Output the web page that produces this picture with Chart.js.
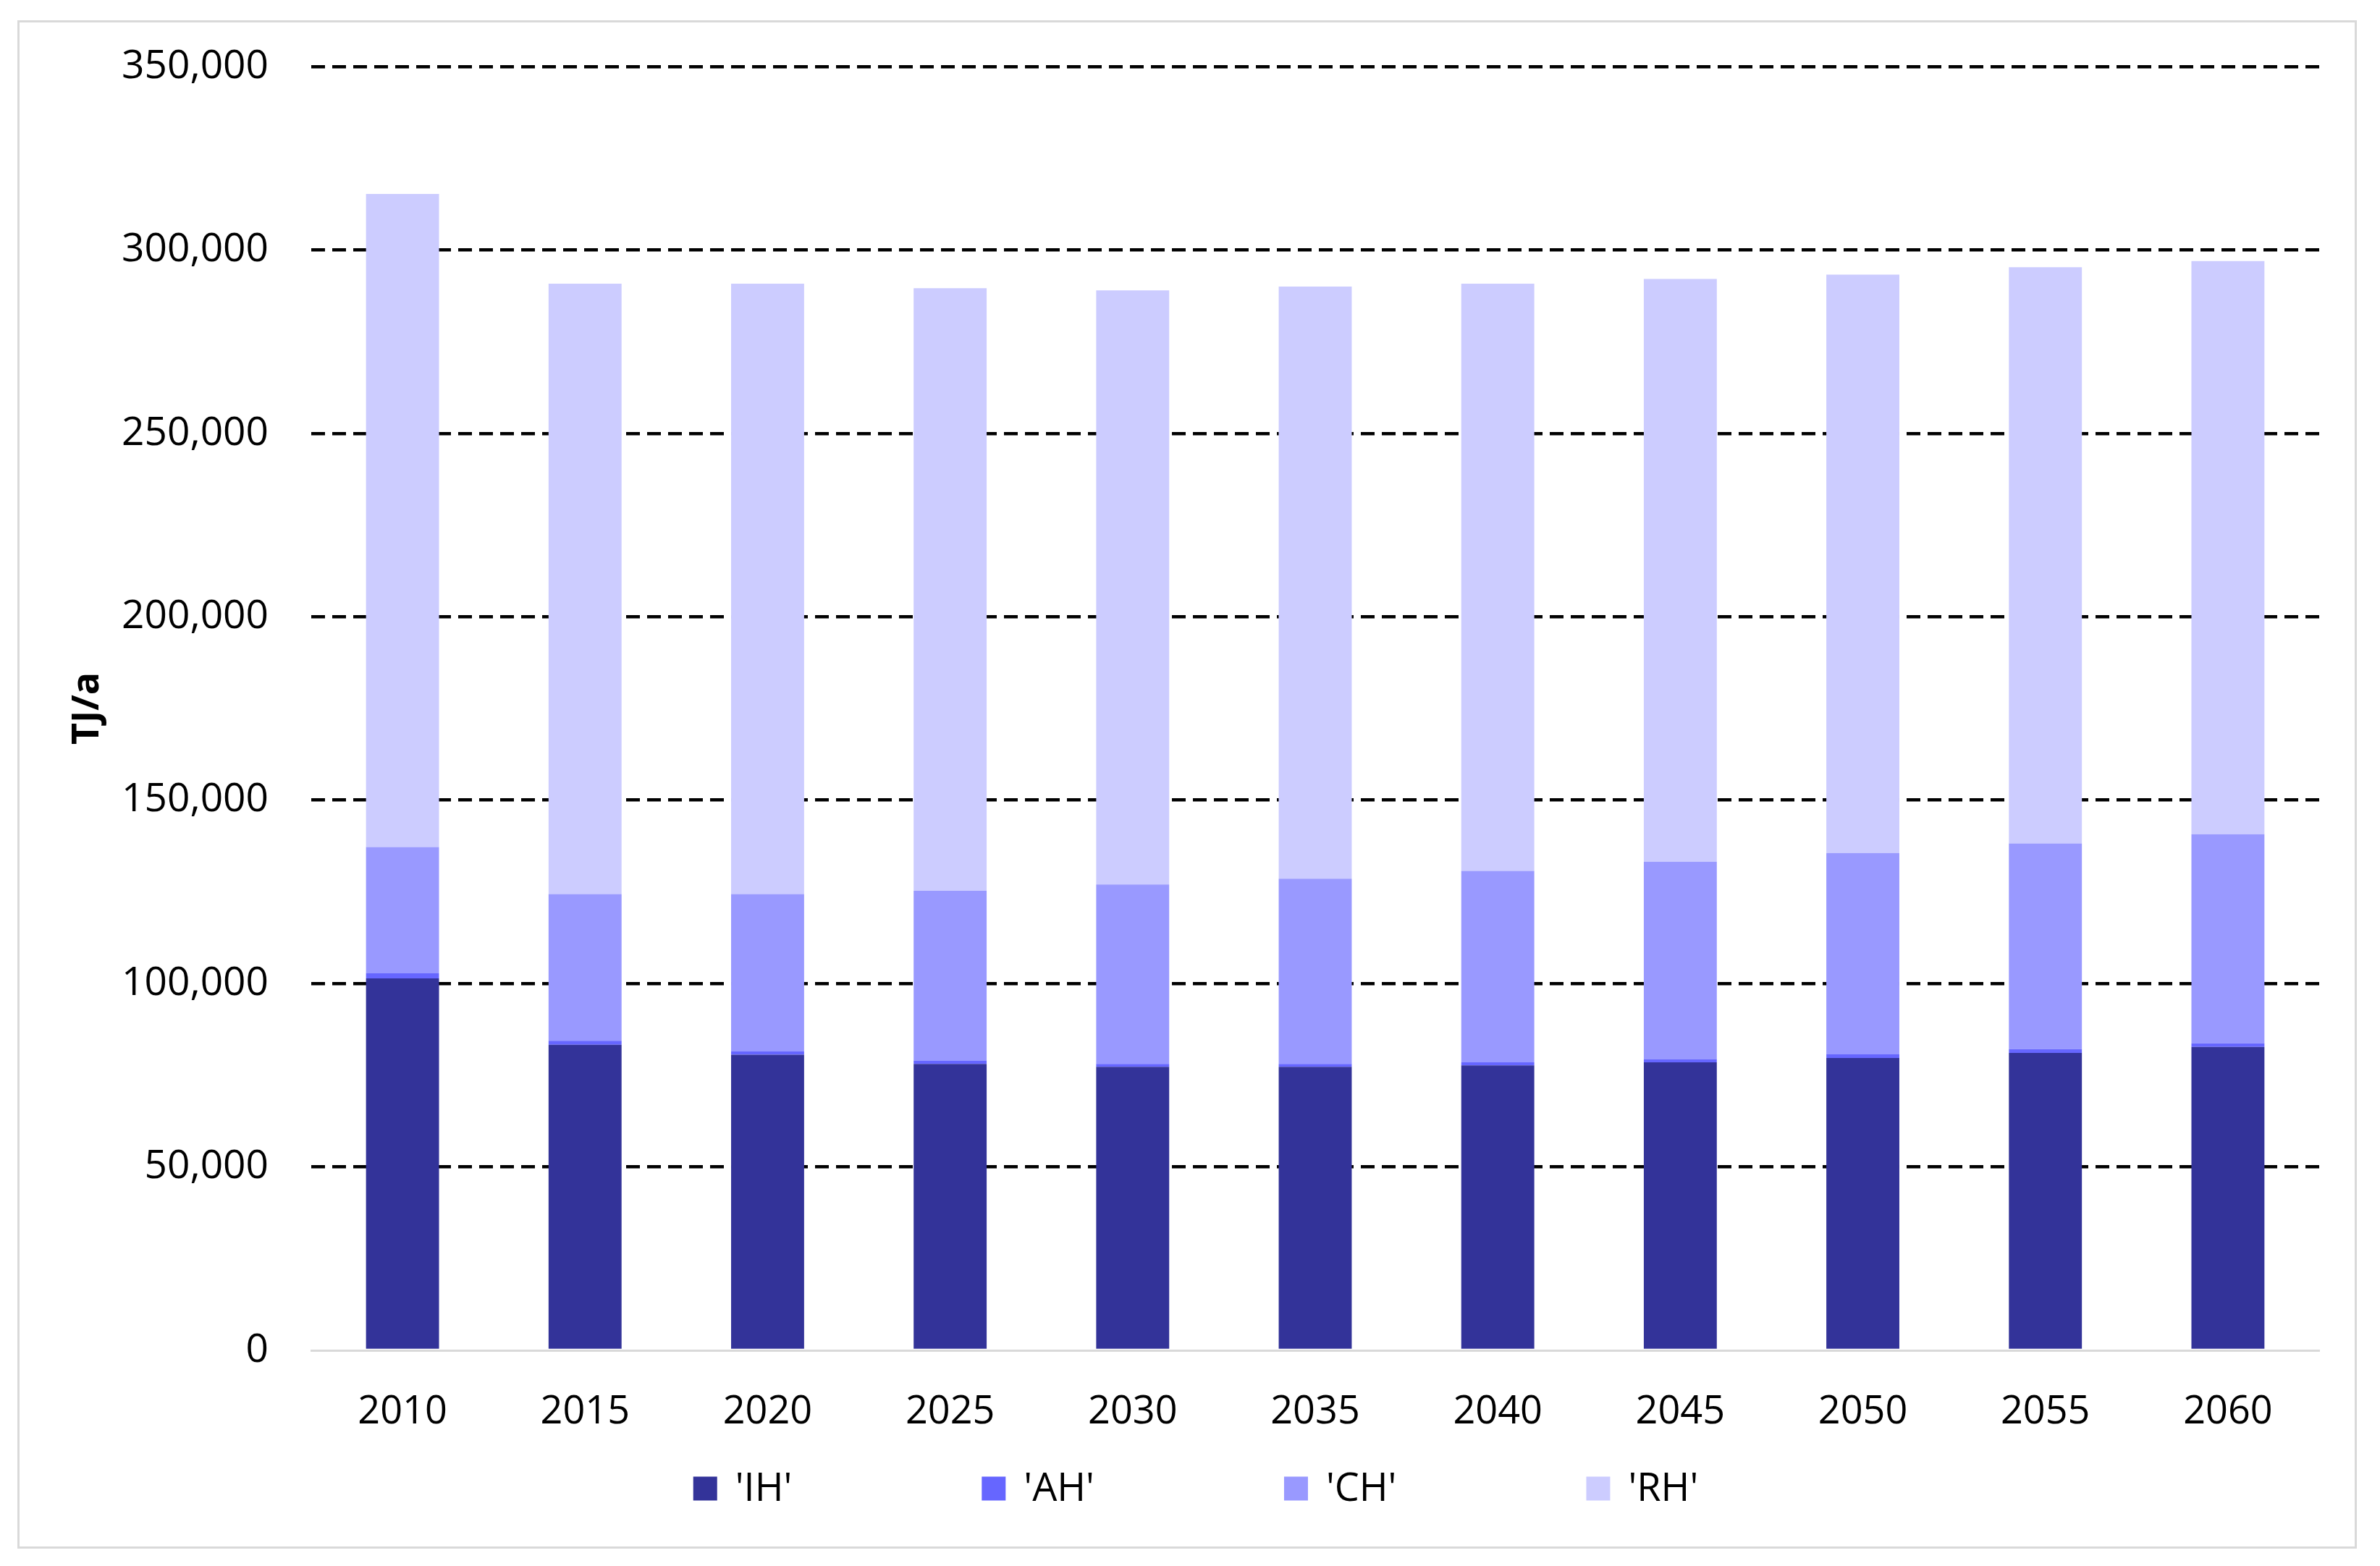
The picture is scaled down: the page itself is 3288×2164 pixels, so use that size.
<!DOCTYPE html>
<html lang="en">
<head>
<meta charset="UTF-8">
<title>TJ/a</title>
<script src="https://cdn.jsdelivr.net/npm/chart.js@4.4.0/dist/chart.umd.min.js"></script>
<style>
  html, body { margin: 0; padding: 0; background: #fff; }
  #wrap { position: relative; width: 3288px; height: 2164px; }
  #frame { position: absolute; left: 24px; top: 28px; width: 3226px; height: 2106px; border: 3px solid #d9d9d9; }
  #chart { position: absolute; left: 0; top: 0; }
</style>
</head>
<body>
<div id="wrap">
  <div id="frame"></div>
  <canvas id="chart" width="3288" height="2164"></canvas>
</div>
<script>
// data (TJ/a)
const years = ['2010', '2015', '2020', '2025', '2030', '2035', '2040', '2045', '2050', '2055', '2060'];
const ihValues = [101400, 83300, 80600, 78100, 77300, 77300, 77700, 78500, 79700, 81100, 82700];
const ahValues = [1400, 1100, 900, 900, 800, 800, 800, 900, 1100, 1000, 1000];
const chValues = [34400, 40000, 42900, 46300, 48900, 50500, 52200, 53800, 54800, 56100, 57000];
const rhValues = [178100, 166400, 166400, 164300, 162000, 161400, 160100, 158900, 157700, 157100, 156300];
const yTicks = [0, 50000, 100000, 150000, 200000, 250000, 300000, 350000];

const FONT = '"Open Sans", "Liberation Sans", sans-serif';

// legend row drawn under the axis, like the original
const legendRow = {
    id: 'legendRow',
    afterDraw(chart) {
        const ctx = chart.ctx;
        const box = 33, gapText = 25, gapItem = 262, y = 2057;
        ctx.save();
        ctx.font = '54px ' + FONT;
        ctx.textBaseline = 'middle';
        const items = chart.data.datasets.map(ds => ({
            text: ds.label,
            color: ds.backgroundColor,
            w: box + gapText + ctx.measureText(ds.label).width
        }));
        const total = items.reduce((s, it) => s + it.w, 0) + gapItem * (items.length - 1);
        let x = chart.width / 2 - total / 2 + 8;
        items.forEach(it => {
            ctx.fillStyle = it.color;
            ctx.fillRect(x, y - box / 2, box, box);
            ctx.fillStyle = '#000';
            ctx.fillText(it.text, x + box + gapText, y + 2);
            x += it.w + gapItem;
        });
        ctx.restore();
    }
};

new Chart(document.getElementById('chart').getContext('2d'), {
    type: 'bar',
    data: {
        labels: years,
        datasets: [
            { label: "'IH'", data: ihValues, backgroundColor: '#333399' },
            { label: "'AH'", data: ahValues, backgroundColor: '#6666ff' },
            { label: "'CH'", data: chValues, backgroundColor: '#9999ff' },
            { label: "'RH'", data: rhValues, backgroundColor: '#ccccff' }
        ]
    },
    options: {
        responsive: false,
        animation: false,
        devicePixelRatio: 1,
        layout: { padding: { left: 90, right: 84, top: 88, bottom: 0 } },
        datasets: { bar: { barPercentage: 0.4, categoryPercentage: 1.0, borderWidth: 0 } },
        scales: {
            x: {
                stacked: true,
                grid: { display: false },
                border: { display: true, color: '#d9d9d9', width: 3 },
                ticks: { color: '#000', font: { family: FONT, size: 54 }, padding: 45 },
                afterFit(scale) { scale.height = 298; }
            },
            y: {
                stacked: true,
                min: 0,
                max: 350000,
                afterBuildTicks(scale) { scale.ticks = yTicks.map(v => ({ value: v })); },
                grid: {
                    drawTicks: false,
                    color: c => c.tick && c.tick.value === 0 ? 'rgba(0,0,0,0)' : '#000',
                    lineWidth: 4.5
                },
                border: { display: false, dash: [19, 10] },
                ticks: {
                    color: '#000',
                    font: { family: FONT, size: 55 },
                    padding: 59,
                    callback: v => v.toLocaleString('en-US')
                },
                title: {
                    display: true,
                    text: 'TJ/a',
                    color: '#000',
                    font: { family: FONT, size: 52, weight: 'bold' },
                    padding: { top: 0, bottom: 0 }
                },
                afterFit(scale) { scale.width = 340; }
            }
        },
        plugins: {
            legend: { display: false },
            tooltip: { enabled: false }
        }
    },
    plugins: [legendRow]
});
</script>
</body>
</html>
